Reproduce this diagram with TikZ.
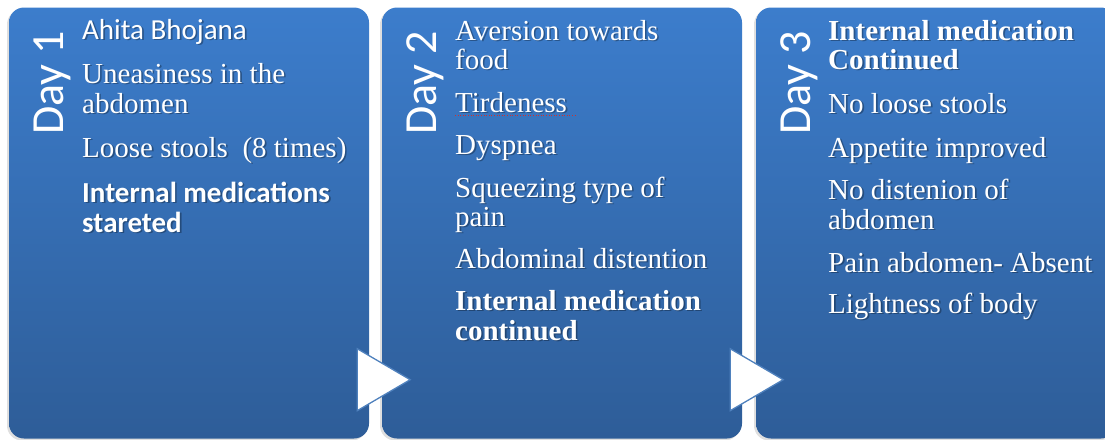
\documentclass[tikz,border=0pt]{standalone}
\usepackage{fontspec}
\setmainfont{Liberation Serif}
\newfontfamily\calibfont{Carlito}
\usetikzlibrary{calc,shadows}
\definecolor{PanelTop}{HTML}{3C7DCC}
\definecolor{PanelBot}{HTML}{2E5D98}
\definecolor{TriEdge}{HTML}{4F81BD}
\definecolor{SpellRed}{HTML}{D03030}
\newcommand{\daypanel}[3]{%
  \node[panel] (#1) at (#2+180,223) {};
  \node[daylbl] (#1d) at (#2+54,135) {#3};
}
\newcommand{\entryline}[5]{%
  \node[#4,text=black,opacity=.3] (#1s) at (#2+1.6,#3+1.6) {#5};
  \node[#4] (#1) at (#2,#3) {#5};
}
\begin{document}
\begin{tikzpicture}[x=1pt,y=-1pt,
    panel/.style={rounded corners=15pt,minimum width=360pt,minimum height=431pt,
      inner sep=0pt,top color=PanelTop,bottom color=PanelBot,
      drop shadow={shadow xshift=-2pt,shadow yshift=-2pt,opacity=.25}},
    daylbl/.style={rotate=90,anchor=base west,inner sep=0pt,text=white,
      font=\calibfont\fontsize{46}{46}\selectfont},
    itemtxt/.style={anchor=base west,inner sep=0pt,text=white,
      font=\rmfamily\mdseries\fontsize{29}{29}\selectfont},
    itembold/.style={itemtxt,font=\rmfamily\bfseries\fontsize{29}{29}\selectfont},
    itemsans/.style={itemtxt,font=\calibfont\mdseries\fontsize{29}{29}\selectfont},
    itemsansbold/.style={itemtxt,font=\calibfont\bfseries\fontsize{29}{29}\selectfont},
    arrowtri/.style={fill=white,draw=TriEdge,line width=1.3pt,line join=miter}]
  \useasboundingbox (0,0) rectangle (1105,439);

  \daypanel{p1}{9}{Day 1}
  \daypanel{p2}{382}{Day 2}
  \daypanel{p3}{756}{Day 3}

  % day 1
  \entryline{a1}{82}{39}{itemsans}{Ahita Bhojana}
  \entryline{a2}{82}{83}{itemtxt}{Uneasiness in the}
  \entryline{a3}{82}{113}{itemtxt}{abdomen}
  \entryline{a4}{82}{157}{itemtxt}{Loose stools\ \ (8 times)}
  \entryline{a5}{82}{202}{itemsansbold}{Internal medications}
  \entryline{a6}{82}{232}{itemsansbold}{stareted}

  % day 2
  \entryline{b1}{455}{40}{itemtxt}{Aversion towards}
  \entryline{b2}{455}{69}{itemtxt}{food}
  \entryline{b3}{455}{112}{itemtxt}{Tirdeness}
  \entryline{b4}{455}{154}{itemtxt}{Dyspnea}
  \entryline{b5}{455}{197}{itemtxt}{Squeezing type of}
  \entryline{b6}{455}{226}{itemtxt}{pain}
  \entryline{b7}{455}{268}{itemtxt}{Abdominal distention}
  \entryline{b8}{455}{310}{itembold}{Internal medication}
  \entryline{b9}{455}{340}{itembold}{continued}
  \draw[SpellRed,dotted,line width=0.6pt] ($(b3.base west)+(0,3)$) -- ++(120,0);

  % day 3
  \entryline{c1}{828}{40}{itembold}{Internal medication}
  \entryline{c2}{828}{69}{itembold}{Continued}
  \entryline{c3}{828}{113}{itemtxt}{No loose stools}
  \entryline{c4}{828}{157}{itemtxt}{Appetite improved}
  \entryline{c5}{828}{199}{itemtxt}{No distenion of}
  \entryline{c6}{828}{229}{itemtxt}{abdomen}
  \entryline{c7}{828}{272}{itemtxt}{Pain abdomen- Absent}
  \entryline{c8}{828}{313}{itemtxt}{Lightness of body}

  % arrows between days
  \draw[arrowtri] ($(p1.south east)+(-12,-28)$) -- ++(53,-31) -- ++(-53,-31) -- cycle;
  \draw[arrowtri] ($(p2.south east)+(-12,-28)$) -- ++(53,-31) -- ++(-53,-31) -- cycle;
\end{tikzpicture}
\end{document}
